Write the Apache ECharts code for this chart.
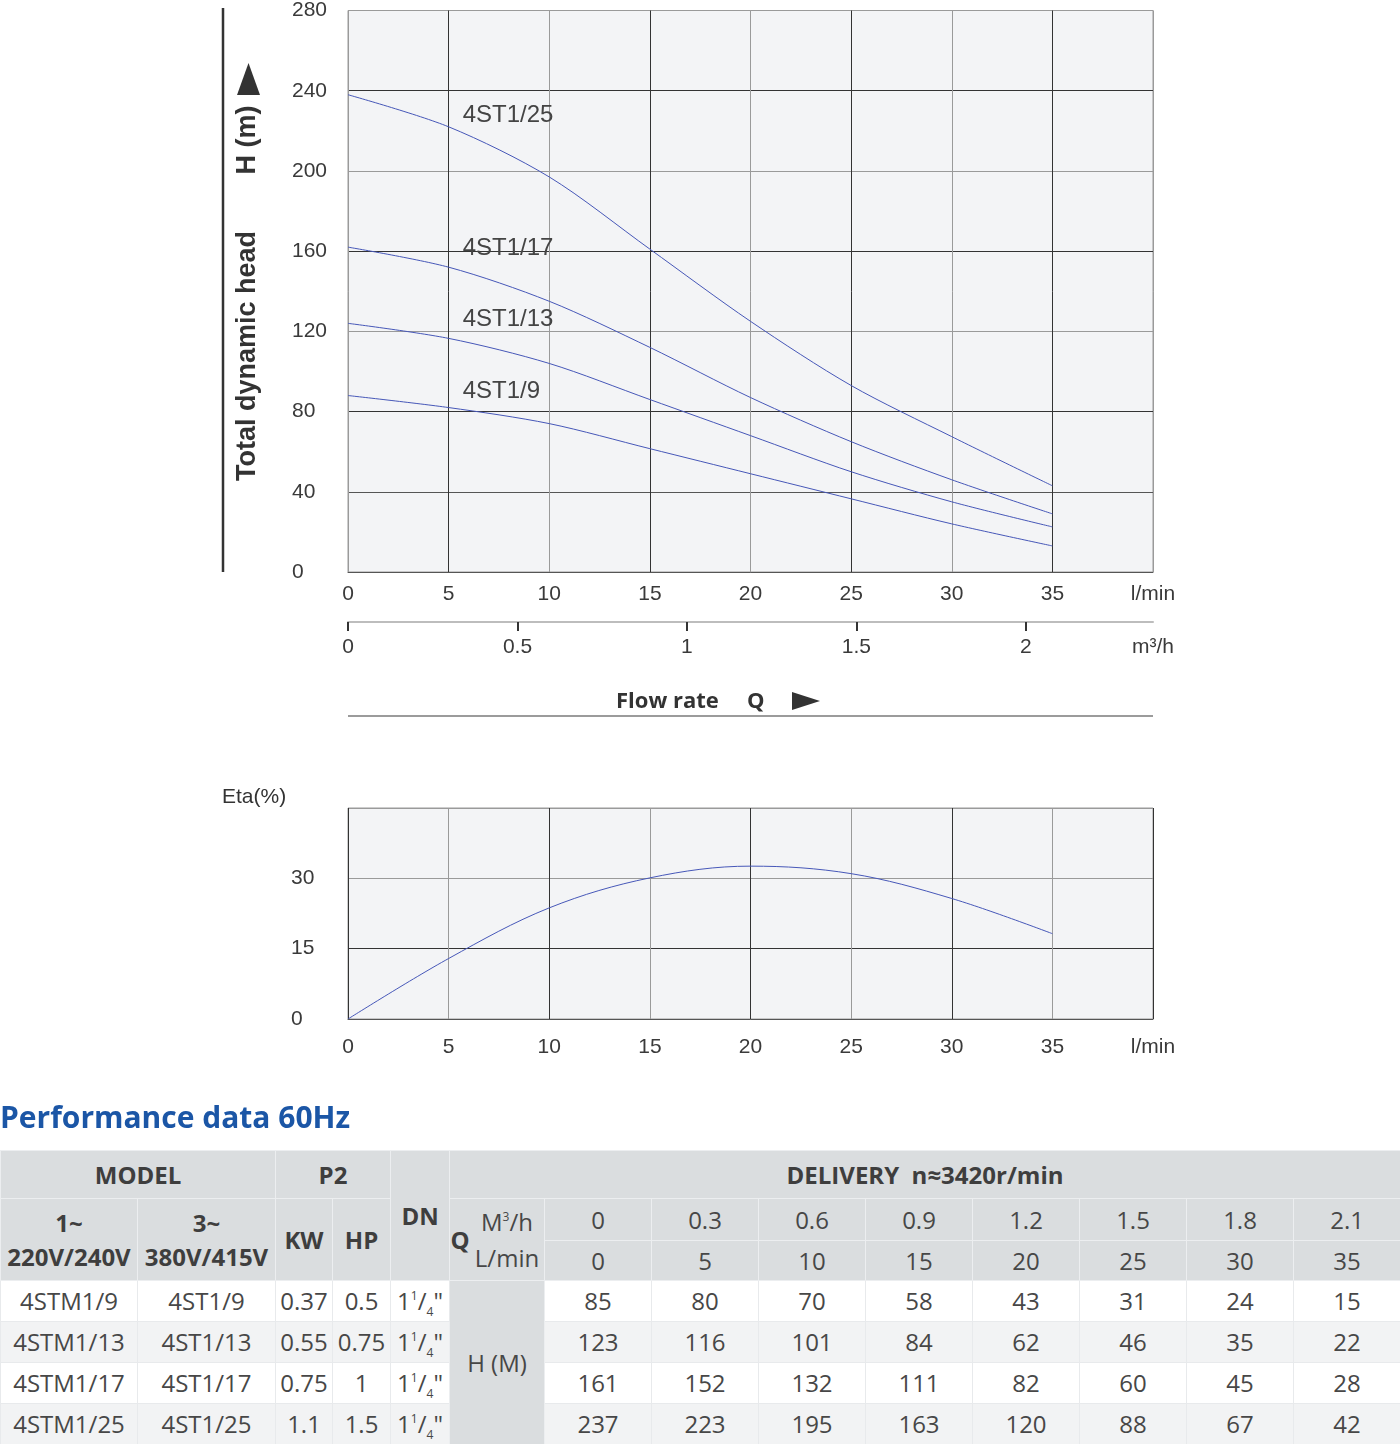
<!DOCTYPE html>
<html>
<head>
<meta charset="utf-8">
<script src="https://cdn.jsdelivr.net/npm/echarts@6/dist/echarts.min.js"></script>
<style>
  html, body { margin: 0; padding: 0; background: #fff; }
  body { width: 1400px; height: 1444px; position: relative; overflow: hidden; }
  #chart { position: absolute; left: 0; top: 0; width: 1400px; height: 1100px; }
  #title { position: absolute; left: 0; top: 1097px; height: 40px; line-height: 40px;
           font-family: 'Open Sans', 'Noto Sans', sans-serif; font-weight: 700; font-size: 30px; color: #1b56a6; white-space: nowrap; }
  #perf { position: absolute; left: 0; top: 1150px; width: 1400px; border-collapse: collapse; table-layout: fixed;
          font-family: 'Open Sans', 'Noto Sans', sans-serif; font-size: 24px; color: #474747; }
  #perf td { padding: 0; text-align: center; vertical-align: middle; white-space: nowrap; overflow: hidden; line-height: 30px; }
  #perf td.h { background: #dadddf; font-weight: 700; color: #3e3e3e; border: 1px solid #eceef0; }
  #perf td.hn { background: #dadddf; font-weight: 400; color: #474747; border: 1px solid #eceef0; }
  #perf td.d { border: 1px solid #e8eaec; }
  #perf tr.odd td.d { background: #ffffff; }
  #perf tr.even td.d { background: #f2f3f4; }
  .sup { font-size: 12px; vertical-align: 10px; line-height: 0; }
  .sub { font-size: 12px; vertical-align: -6px; line-height: 0; }
  .qwrap { display: flex; align-items: center; }
  .qq { font-weight: 700; width: 20px; text-align: center; }
  .qs { flex: 1; display: flex; flex-direction: column; line-height: 36px; font-weight: 400; color: #474747; }
</style>
</head>
<body>
<div id="chart"></div>
<div id="title">Performance data 60Hz</div>
<table id="perf"></table>
<script>
// ---------------- data ----------------
const qLmin = [0, 5, 10, 15, 20, 25, 30, 35];
const qM3h = ['0', '0.3', '0.6', '0.9', '1.2', '1.5', '1.8', '2.1'];
const m3hTicks = [0, 0.5, 1, 1.5, 2];

// head curves
const curve9  = [88, 82, 74, 61.5, 49, 36.5, 24, 13];
const curve13 = [124, 116.5, 104, 86, 68, 50, 35, 22.5];
const curve17 = [162, 152, 135, 112, 87, 65, 46, 29];
const curve25 = [238, 222, 197, 161, 125, 93, 67.5, 43];
const etaCurve = [0, 12.9, 23.7, 30.1, 32.6, 31, 25.7, 18.2];
const curveNames = ['4ST1/9', '4ST1/13', '4ST1/17', '4ST1/25'];

// table
const models1 = ['4STM1/9', '4STM1/13', '4STM1/17', '4STM1/25'];
const models3 = ['4ST1/9', '4ST1/13', '4ST1/17', '4ST1/25'];
const kwValues = ['0.37', '0.55', '0.75', '1.1'];
const hpValues = ['0.5', '0.75', '1', '1.5'];
const tableH9  = [85, 80, 70, 58, 43, 31, 24, 15];
const tableH13 = [123, 116, 101, 84, 62, 46, 35, 22];
const tableH17 = [161, 152, 132, 111, 82, 60, 45, 28];
const tableH25 = [237, 223, 195, 163, 120, 88, 67, 42];

// label anchors (in data units) for curve names
const labelAnchors = [[5.7, 90.2], [5.7, 126], [5.7, 161.5], [5.7, 227.6]];

// ---------------- chart ----------------
const chart = echarts.init(document.getElementById('chart'), null, { renderer: 'canvas' });
const LINE = '#4657b8';
const FONT = 'Liberation Sans, Arial, sans-serif';
const lab = { fontFamily: FONT, fontSize: 21, color: '#3a3a3a' };

function pairs(ys) { return qLmin.map((x, i) => [x, ys[i]]); }
const curves = [curve9, curve13, curve17, curve25];

const series = curves.map((c, i) => ({
  type: 'line', xAxisIndex: 0, yAxisIndex: 0, data: pairs(c), smooth: 0.3,
  symbol: 'none', lineStyle: { color: LINE, width: 1 }, silent: true,
  markPoint: {
    symbol: 'circle', symbolSize: 0, silent: true,
    label: { show: true, position: 'right', distance: 0, formatter: curveNames[i],
             fontFamily: FONT, fontSize: 24, color: '#444' },
    data: [{ coord: labelAnchors[i] }]
  }
}));
series.push({
  type: 'line', xAxisIndex: 2, yAxisIndex: 2, data: pairs(etaCurve), smooth: 0.35,
  symbol: 'none', lineStyle: { color: LINE, width: 1 }, silent: true
});

const option = {
  animation: false,
  grid: [
    { left: 348, top: 8, width: 805, height: 564, show: true, backgroundColor: '#f3f4f6', borderColor: '#9a9a9a', borderWidth: 1 },
    { left: 348, top: 621, width: 805, height: 1 },
    { left: 348, top: 808, width: 805, height: 211, show: true, backgroundColor: '#f3f4f6', borderColor: '#9a9a9a', borderWidth: 1 }
  ],
  xAxis: [
    { gridIndex: 0, type: 'value', min: 0, max: 40, interval: 5,
      axisLine: { show: true, lineStyle: { color: '#555', width: 1 } }, axisTick: { show: false },
      axisLabel: Object.assign({ margin: 12, showMaxLabel: true, showMinLabel: true,
        formatter: v => v === 40 ? 'l/min' : String(v) }, lab),
      splitLine: { show: true, lineStyle: { color: ['#9a9a9a', '#333'], width: 1 } } },
    { gridIndex: 1, type: 'value', min: 0, max: 2.375,
      axisLine: { show: true, lineStyle: { color: '#bdbdbd', width: 2 } },
      axisTick: { show: true, customValues: m3hTicks, length: 9, lineStyle: { color: '#333', width: 2 } },
      axisLabel: Object.assign({ margin: 15, customValues: m3hTicks.concat([2.375]),
        formatter: v => v === 2.375 ? 'm³/h' : String(v) }, lab),
      splitLine: { show: false } },
    { gridIndex: 2, type: 'value', min: 0, max: 40, interval: 5,
      axisLine: { show: true, lineStyle: { color: '#555', width: 1 } }, axisTick: { show: false },
      axisLabel: Object.assign({ margin: 18, showMaxLabel: true, showMinLabel: true,
        formatter: v => v === 40 ? 'l/min' : String(v) }, lab),
      splitLine: { show: true, lineStyle: { color: ['#333', '#9a9a9a'], width: 1 } } }
  ],
  yAxis: [
    { gridIndex: 0, type: 'value', min: 0, max: 280, interval: 40,
      axisLine: { show: false }, axisTick: { show: false },
      axisLabel: Object.assign({ align: 'left', margin: 56, showMaxLabel: true }, lab),
      splitLine: { show: true, lineStyle: { color: ['#9a9a9a', '#555', '#333', '#9a9a9a', '#333', '#9a9a9a', '#333', '#9a9a9a'], width: 1 } } },
    { gridIndex: 1, type: 'value', show: false },
    { gridIndex: 2, type: 'value', min: 0, max: 45, interval: 15,
      axisLine: { show: false }, axisTick: { show: false },
      axisLabel: Object.assign({ align: 'left', margin: 57, formatter: v => v === 45 ? '' : String(v) }, lab),
      splitLine: { show: true, lineStyle: { color: ['#9a9a9a', '#333', '#9a9a9a', '#9a9a9a'], width: 1 } } }
  ],
  graphic: [
    { type: 'line', silent: true, shape: { x1: 223, y1: 8, x2: 223, y2: 572 }, style: { stroke: '#333', lineWidth: 2.5 } },
    { type: 'text', silent: true, x: 248, y: 356, rotation: Math.PI / 2,
      style: { text: 'Total dynamic head', font: 'bold 27px Liberation Sans, Arial, sans-serif', fill: '#333', align: 'center', verticalAlign: 'middle' } },
    { type: 'text', silent: true, x: 248, y: 140, rotation: Math.PI / 2,
      style: { text: 'H (m)', font: 'bold 27px Liberation Sans, Arial, sans-serif', fill: '#333', align: 'center', verticalAlign: 'middle' } },
    { type: 'polygon', silent: true, shape: { points: [[237, 95], [260, 95], [248.5, 63]] }, style: { fill: '#333' } },
    { type: 'text', silent: true, x: 616, y: 702,
      style: { text: 'Flow rate', font: 'bold 22px Open Sans, Noto Sans, sans-serif', fill: '#333', align: 'left', verticalAlign: 'middle' } },
    { type: 'text', silent: true, x: 747, y: 702,
      style: { text: 'Q', font: 'bold 22px Open Sans, Noto Sans, sans-serif', fill: '#333', align: 'left', verticalAlign: 'middle' } },
    { type: 'polygon', silent: true, shape: { points: [[792, 692], [792, 710], [820, 701]] }, style: { fill: '#333' } },
    { type: 'line', silent: true, shape: { x1: 348, y1: 716, x2: 1153, y2: 716 }, style: { stroke: '#7a7a7a', lineWidth: 1.5 } },
    { type: 'text', silent: true, x: 222, y: 797,
      style: { text: 'Eta(%)', font: '21px Liberation Sans, Arial, sans-serif', fill: '#333', align: 'left', verticalAlign: 'middle' } }
  ],
  series: series
};
chart.setOption(option);

// ---------------- table ----------------
const tableRows = [tableH9, tableH13, tableH17, tableH25];
const dn = '1<span class="sup">1</span>/<span class="sub">4</span>"';
let html = '<colgroup><col style="width:137px"><col style="width:138px"><col style="width:57px"><col style="width:58px"><col style="width:59px"><col style="width:95px">';
for (let i = 0; i < 8; i++) html += '<col style="width:107px">';
html += '</colgroup>';
html += '<tr style="height:48px"><td class="h" colspan="2">MODEL</td><td class="h" colspan="2">P2</td>' +
        '<td class="h" rowspan="3">DN</td>' +
        '<td class="h" colspan="9">DELIVERY&nbsp;&nbsp;n≈3420r/min</td></tr>';
html += '<tr style="height:42px"><td class="h" rowspan="2" style="line-height:34px">1~<br>220V/240V</td>' +
        '<td class="h" rowspan="2" style="line-height:34px">3~<br>380V/415V</td>' +
        '<td class="h" rowspan="2">KW</td><td class="h" rowspan="2">HP</td>' +
        '<td class="h" rowspan="2"><div class="qwrap"><div class="qq">Q</div><div class="qs"><div>M<span class="sup">3</span>/h</div><div>L/min</div></div></div></td>';
qM3h.forEach(v => { html += '<td class="hn">' + v + '</td>'; });
html += '</tr><tr style="height:40px">';
qLmin.forEach(v => { html += '<td class="hn">' + v + '</td>'; });
html += '</tr>';
for (let r = 0; r < 4; r++) {
  html += '<tr class="' + (r % 2 === 0 ? 'odd' : 'even') + '" style="height:41px">';
  html += '<td class="d">' + models1[r] + '</td><td class="d">' + models3[r] + '</td>';
  html += '<td class="d">' + kwValues[r] + '</td><td class="d">' + hpValues[r] + '</td><td class="d">' + dn + '</td>';
  if (r === 0) html += '<td class="hn" rowspan="4">H (M)</td>';
  tableRows[r].forEach(v => { html += '<td class="d">' + v + '</td>'; });
  html += '</tr>';
}
document.getElementById('perf').innerHTML = html;
</script>
</body>
</html>
